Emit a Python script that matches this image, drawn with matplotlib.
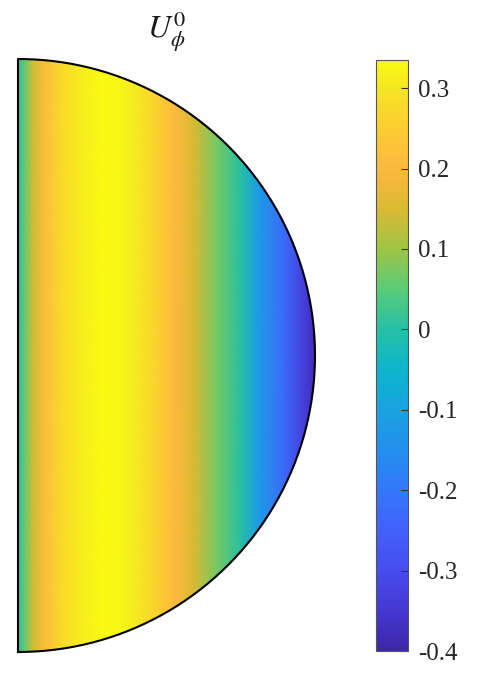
import numpy as np
import matplotlib.pyplot as plt
from matplotlib.colors import LinearSegmentedColormap
from matplotlib.patches import Polygon

# parula-like colormap, anchors
cmap_vals = [-0.4, -0.35, -0.3, -0.25, -0.2, -0.15, -0.1, -0.05, 0.0, 0.05, 0.1, 0.15, 0.2, 0.25, 0.3, 0.335]
cmap_rgb = [(0.24, 0.15, 0.66), (0.27, 0.22, 0.82), (0.28, 0.30, 0.94), (0.26, 0.38, 0.99),
            (0.20, 0.47, 0.98), (0.14, 0.56, 0.93), (0.10, 0.64, 0.88), (0.05, 0.71, 0.80),
            (0.15, 0.75, 0.65), (0.35, 0.80, 0.47), (0.62, 0.77, 0.27), (0.85, 0.73, 0.20),
            (0.99, 0.72, 0.25), (0.99, 0.80, 0.20), (0.96, 0.90, 0.14), (0.98, 0.98, 0.08)]
vmin, vmax = -0.4, 0.335
pos = [(v - vmin) / (vmax - vmin) for v in cmap_vals]
parula = LinearSegmentedColormap.from_list('parula', list(zip(pos, cmap_rgb)))

# radial profile of U_phi^0 (cylindrical radius s, value)
s_pts = [0.0, 0.024, 0.05, 0.09, 0.14, 0.21, 0.28, 0.34, 0.41, 0.48, 0.53, 0.59, 0.67, 0.75, 0.81, 0.89, 0.96, 1.0]
u_vals = [0.0, 0.06, 0.14, 0.21, 0.27, 0.31, 0.335, 0.33, 0.30, 0.25, 0.20, 0.15, 0.07, 0.0, -0.12, -0.22, -0.33, -0.38]
z_pts = [-1.0, 0.0, 1.0]

cb_ticks = [-0.4, -0.3, -0.2, -0.1, 0, 0.1, 0.2, 0.3]
cb_labels = ['-0.4', '-0.3', '-0.2', '-0.1', '0', '0.1', '0.2', '0.3']

plt.rcParams['font.family'] = 'Liberation Serif'
plt.rcParams['mathtext.fontset'] = 'stix'

fig = plt.figure(figsize=(4.79, 6.98), dpi=100)
ax = fig.add_axes([18 / 479, 46 / 698, 297 / 479, 593 / 698])

S, Z = np.meshgrid(s_pts, z_pts)
U = np.tile(u_vals, (len(z_pts), 1))
mesh = ax.pcolormesh(S, Z, U, cmap=parula, vmin=vmin, vmax=vmax, shading='gouraud')

th = np.linspace(-np.pi / 2, np.pi / 2, 300)
outline = np.column_stack([np.cos(th), np.sin(th)])
clip = Polygon(outline, closed=True, transform=ax.transData, facecolor='none', edgecolor='none')
ax.add_patch(clip)
mesh.set_clip_path(clip)
ax.plot(np.append(outline[:, 0], outline[0, 0]), np.append(outline[:, 1], outline[0, 1]),
        color='black', lw=1.5, clip_on=False)

ax.set_xlim(0, 1)
ax.set_ylim(-1, 1)
ax.axis('off')
ax.text(0.5, 1.035, r'$U_\phi^0$', transform=ax.transAxes, ha='center', va='baseline',
        fontsize=23, color='#1a1a1a')

cax = fig.add_axes([376 / 479, 47 / 698, 32 / 479, 591 / 698])
cb = fig.colorbar(mesh, cax=cax, ticks=cb_ticks)
cb.ax.set_yticklabels(cb_labels)
cb.ax.tick_params(direction='in', length=5, width=0.8, labelsize=18, color='#333333',
                  labelcolor='#262626', pad=7)
cb.outline.set_edgecolor('#555555')
cb.outline.set_linewidth(0.8)

fig.savefig('out.png', dpi=100)
